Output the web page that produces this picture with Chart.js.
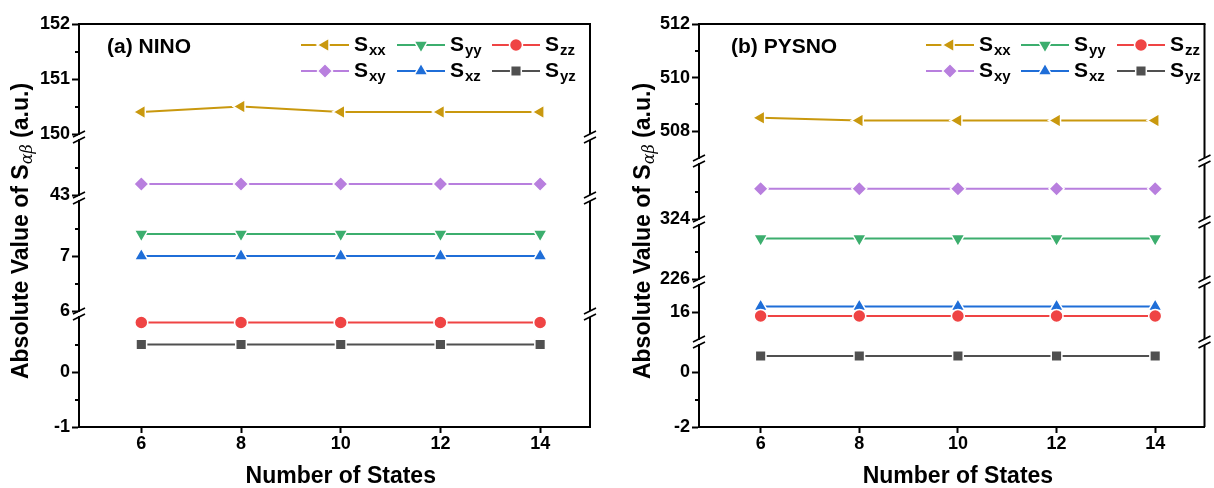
<!DOCTYPE html>
<html><head><meta charset="utf-8">
<script src="https://cdn.jsdelivr.net/npm/chart.js@4/dist/chart.umd.min.js"></script>
<style>
html,body{margin:0;padding:0;background:#fff;}
#wrap{position:relative;width:1214px;height:488px;background:#fff;}
.pane{position:absolute;top:0;width:607px;height:488px;}
</style></head><body>
<div id="wrap">
  <div class="pane" style="left:0"><canvas id="ca" width="607" height="488"></canvas></div>
  <div class="pane" style="left:607px"><canvas id="cb" width="607" height="488"></canvas></div>
</div>
<script>
// ---------------- data ----------------
const states = [6, 8, 10, 12, 14];
const xTicks = [6, 8, 10, 12, 14];
const seriesNames = ['xx', 'yy', 'zz', 'xy', 'xz', 'yz'];

// (a) NINO
const ninoSxx = [150.4, 150.5, 150.4, 150.4, 150.4];
const ninoSyy = [7.4, 7.4, 7.4, 7.4, 7.4];
const ninoSzz = [0.9, 0.9, 0.9, 0.9, 0.9];
const ninoSxy = [43.2, 43.2, 43.2, 43.2, 43.2];
const ninoSxz = [7.0, 7.0, 7.0, 7.0, 7.0];
const ninoSyz = [0.5, 0.5, 0.5, 0.5, 0.5];
const ninoSegments = [[150, 152], [43, 44], [6, 8], [-1, 1]];
const ninoMajorTicks = [[150, 151, 152], [43], [6, 7], [-1, 0]];
const ninoMinorTicks = [[150.5, 151.5], [43.5], [6.5, 7.5], [-0.5, 0.5]];
const ninoSeriesSegment = [0, 2, 3, 1, 2, 3];

// (b) PYSNO
const pysnoSxx = [508.5, 508.4, 508.4, 508.4, 508.4];
const pysnoSyy = [227.5, 227.5, 227.5, 227.5, 227.5];
const pysnoSzz = [15.85, 15.85, 15.85, 15.85, 15.85];
const pysnoSxy = [325.1, 325.1, 325.1, 325.1, 325.1];
const pysnoSxz = [16.2, 16.2, 16.2, 16.2, 16.2];
const pysnoSyz = [0.6, 0.6, 0.6, 0.6, 0.6];
const pysnoSegments = [[507, 512], [324, 326], [226, 228], [15, 17], [-2, 1]];
const pysnoMajorTicks = [[508, 510, 512], [324], [226], [16], [-2, 0]];
const pysnoMinorTicks = [[509, 511], [325], [227], [], [-1]];
const pysnoSeriesSegment = [0, 2, 3, 1, 3, 4];

// ---------------- styles ----------------
const FONT = '"Liberation Sans", Arial, Helvetica, sans-serif';
const seriesStyle = [
  {color: '#C9980E', style: 'triangle', rot: -90, r: 8},
  {color: '#3CAE6E', style: 'triangle', rot: 180, r: 8},
  {color: '#EF4444', style: 'circle', rot: 0, r: 6.5},
  {color: '#B87FDE', style: 'rectRot', rot: 0, r: 7.5},
  {color: '#1F6ED8', style: 'triangle', rot: 0, r: 8},
  {color: '#505050', style: 'rect', rot: 0, r: 7.5}
];

function buildChart(canvasId, p) {
  const scales = {};
  const n = p.segments.length;
  let w = 100;
  p.segments.forEach((seg, i) => {
    scales['y' + i] = {
      type: 'linear', position: 'left', stack: 'ys', stackWeight: p.segPx[i], weight: w--,
      min: seg[0], max: seg[1],
      afterBuildTicks: s => { s.ticks = p.majors[i].map(v => ({value: v})); },
      afterFit: s => { s.width = 45; },
      ticks: {font: {family: FONT, size: 18, weight: 'bold'}, color: '#000', padding: 2,
              callback: v => String(v)},
      grid: {drawOnChartArea: false, drawTicks: true, tickLength: 7, tickWidth: 2, tickColor: '#000'},
      border: {display: true, color: '#000', width: 2}
    };
    if (i < n - 1) {
      scales['g' + i] = {type: 'linear', position: 'left', stack: 'ys', stackWeight: p.gapPx,
                         weight: w--, display: false, min: 0, max: 1};
    }
  });
  scales.x = {
    type: 'linear', position: 'bottom', min: 4.75, max: 15,
    afterBuildTicks: s => { s.ticks = xTicks.map(v => ({value: v})); },
    afterFit: s => { s.height = 61; },
    ticks: {font: {family: FONT, size: 18, weight: 'bold'}, color: '#000', padding: 0,
            callback: v => String(v)},
    grid: {drawOnChartArea: false, drawTicks: true, tickLength: 6, tickWidth: 2, tickColor: '#000'},
    border: {display: true, color: '#000', width: 2}
  };

  const datasets = p.series.map((vals, k) => {
    const st = seriesStyle[k];
    return {
      label: 'S' + seriesNames[k],
      data: states.map((s, j) => ({x: s, y: vals[j]})),
      yAxisID: 'y' + p.seriesSeg[k],
      borderColor: st.color, backgroundColor: st.color, borderWidth: 2,
      pointStyle: st.style, pointRotation: st.rot, pointRadius: st.r, pointHoverRadius: st.r,
      pointBackgroundColor: st.color, pointBorderColor: '#fff', pointBorderWidth: 1.5,
      tension: 0, clip: false
    };
  });

  const decor = {
    id: 'decor',
    afterDraw(chart) {
      const ctx = chart.ctx;
      const a = chart.chartArea;
      const xs = chart.scales.x;
      ctx.save();
      ctx.strokeStyle = '#000';
      ctx.lineWidth = 2;
      // top frame
      ctx.beginPath(); ctx.moveTo(a.left - 1, a.top); ctx.lineTo(a.right + 1, a.top); ctx.stroke();
      // right frame per segment
      for (let i = 0; i < n; i++) {
        const sc = chart.scales['y' + i];
        ctx.beginPath(); ctx.moveTo(a.right, sc.top); ctx.lineTo(a.right, sc.bottom); ctx.stroke();
      }
      // minor ticks
      ctx.lineWidth = 2;
      for (let i = 0; i < n; i++) {
        const sc = chart.scales['y' + i];
        p.minors[i].forEach(v => {
          const y = Math.round(sc.getPixelForValue(v));
          ctx.beginPath(); ctx.moveTo(a.left - 4, y); ctx.lineTo(a.left, y); ctx.stroke();
        });
      }
      // break marks
      ctx.lineWidth = 1.6;
      for (let i = 0; i < n - 1; i++) {
        const yA = chart.scales['y' + i].bottom;
        const yB = chart.scales['y' + (i + 1)].top;
        [a.left, a.right].forEach(x => {
          [yA, yB].forEach(y => {
            ctx.beginPath(); ctx.moveTo(x - 6, y + 3); ctx.lineTo(x + 6, y - 3); ctx.stroke();
          });
        });
      }
      // x title (centred on the data range)
      ctx.fillStyle = '#000';
      ctx.font = 'bold 23px ' + FONT;
      ctx.textAlign = 'center'; ctx.textBaseline = 'middle';
      const xc = (xs.getPixelForValue(states[0]) + xs.getPixelForValue(states[states.length - 1])) / 2;
      ctx.fillText('Number of States', xc, 477);
      // panel label
      ctx.font = 'bold 21px ' + FONT;
      ctx.textAlign = 'left'; ctx.textBaseline = 'middle';
      ctx.fillText(p.label, a.left + p.labelDx, a.top + 23);
      // legend
      const cols = p.legendCols.map(c => a.left + c);
      const rows = [a.top + 21, a.top + 47];
      chart.data.datasets.forEach((ds, i) => {
        const x0 = cols[i % 3], y = rows[Math.floor(i / 3)];
        const st = seriesStyle[i];
        ctx.strokeStyle = st.color; ctx.lineWidth = 2;
        ctx.beginPath(); ctx.moveTo(x0, y); ctx.lineTo(x0 + 48, y); ctx.stroke();
        ctx.fillStyle = st.color; ctx.strokeStyle = '#fff'; ctx.lineWidth = 1.5;
        Chart.helpers.drawPoint(ctx, {pointStyle: st.style, rotation: st.rot, radius: st.r, borderWidth: 1.5}, x0 + 24, y);
        ctx.fillStyle = '#000';
        ctx.textBaseline = 'middle';
        ctx.font = 'bold 21px ' + FONT;
        ctx.fillText('S', x0 + 53, y);
        const sw = ctx.measureText('S').width;
        ctx.font = 'bold 15px ' + FONT;
        ctx.fillText(seriesNames[i], x0 + 53 + sw + 1, y + 6);
      });
      // y title
      ctx.translate(p.yTitleX, p.yTitleY);
      ctx.rotate(-Math.PI / 2);
      const big = 'bold 23px ' + FONT;
      const parts = [
        {t: 'Absolute Value of ', f: big, dy: 0},
        {t: 'S', f: big, dy: 0},
        {t: '\u03B1\u03B2', f: 'italic 16px "DejaVu Serif", "Liberation Serif", serif', dy: 6},
        {t: ' (a.u.)', f: big, dy: 0}
      ];
      let total = 0;
      parts.forEach(q => { ctx.font = q.f; q.w = ctx.measureText(q.t).width; total += q.w; });
      let x = -total / 2;
      ctx.fillStyle = '#000'; ctx.textBaseline = 'middle'; ctx.textAlign = 'left';
      parts.forEach(q => { ctx.font = q.f; ctx.fillText(q.t, x, q.dy); x += q.w; });
      ctx.restore();
    }
  };

  return new Chart(document.getElementById(canvasId), {
    type: 'line',
    data: {datasets},
    options: {
      responsive: false, animation: false, devicePixelRatio: 1,
      layout: {padding: {left: p.padLeft, right: p.padRight, top: 24, bottom: 0}},
      plugins: {legend: {display: false}, tooltip: {enabled: false}},
      scales
    },
    plugins: [decor]
  });
}

buildChart('ca', {
  label: '(a) NINO', labelDx: 28,
  series: [ninoSxx, ninoSyy, ninoSzz, ninoSxy, ninoSxz, ninoSyz],
  seriesSeg: ninoSeriesSegment,
  segments: ninoSegments, majors: ninoMajorTicks, minors: ninoMinorTicks,
  segPx: [110, 55, 110, 110], gapPx: 6,
  padLeft: 34, padRight: 17,
  legendCols: [222, 318, 413],
  yTitleX: 22, yTitleY: 231
});
buildChart('cb', {
  label: '(b) PYSNO', labelDx: 32,
  series: [pysnoSxx, pysnoSyy, pysnoSzz, pysnoSxy, pysnoSxz, pysnoSyz],
  seriesSeg: pysnoSeriesSegment,
  segments: pysnoSegments, majors: pysnoMajorTicks, minors: pysnoMinorTicks,
  segPx: [134, 55, 54, 54, 82], gapPx: 6,
  padLeft: 47, padRight: 4,
  legendCols: [227, 322, 418],
  yTitleX: 37, yTitleY: 231
});
</script>
</body></html>
